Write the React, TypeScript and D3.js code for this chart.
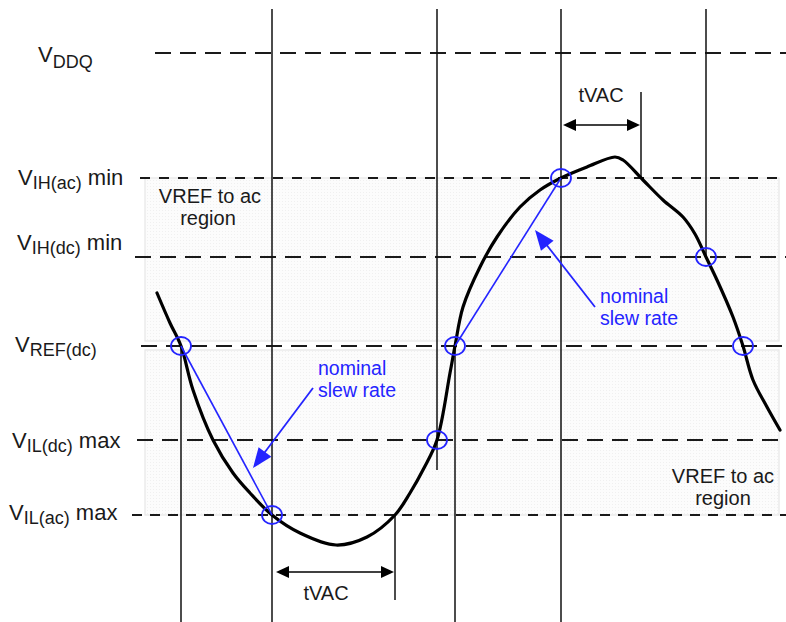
import React from "react";
import * as d3 from "d3";

// ---------- data (time units / mV relative to VREF) ----------
const levelKeys = ["VDDQ", "VIHac", "VIHdc", "VREF", "VILdc", "VILac"];
const levelValues = [293, 168, 89, 0, -94, -169];
const levelSub = ["DDQ", "IH(ac)", "IH(dc)", "REF(dc)", "IL(dc)", "IL(ac)"];
const levelSuffix = ["", " min", " min", "", " max", " max"];

const curveT = [157, 170, 181, 193, 213, 233, 250, 272, 300, 336, 367, 395, 410, 424, 437, 450, 455, 463, 480, 497, 520, 540, 561, 587, 615, 623, 643, 663, 683, 695, 706, 717, 733, 743, 753, 767, 780];
const curveV = [53, 23, 0, -44, -94, -127, -147, -169, -187, -199, -191, -169, -147, -122, -94, -27, 0, 39, 79, 109, 139, 156, 168, 179, 189, 186, 166, 146, 129, 112, 89, 66, 29, 0, -34, -61, -84];

const crossT = [181, 272, 437, 455, 561, 706, 743];
const crossV = [0, -169, -94, 0, 168, 89, 0];

// vertical timing markers: time, top value, bottom value
const vertT = [181, 272, 395, 437, 455, 561, 641, 706];
const vertTop = [0, 337, -169, 337, 0, 337, 254, 337];
const vertBottom = [-276, -276, -254, -124, -276, -276, 168, 89];

// nominal slew-rate segments (index pairs into crossing points)
const slewPairs = [[0, 1], [3, 4]];

// tVAC spans: start, end, value
const tvacStart = [563, 276];
const tvacEnd = [640, 394];
const tvacV = [221, -226];

// ---------- layout ----------
const W = 786, H = 622;
const x = d3.scaleLinear().domain([0, 786]).range([0, W]);
const y = d3.scaleLinear().domain([-276, 346]).range([H, 0]);

const dashStart = [155, 140, 135, 141, 137, 132];
const dashArr = ["16 9", "10 9", "16 9", "16 9", "16 9", "10 8"];
const labelX = [38, 18, 17, 15, 12, 9];
const labelDy = [9, 7, -7, 6, 8, 5];
const subDy = [6, 4, 4, 4, 4, 4];

const FONT = "'Liberation Sans', Arial, Helvetica, sans-serif";
const BLUE = "#2424ff";
const INK = "#1a1a1a";

function arrow(x1: number, y1: number, x2: number, y2: number, L: number, w: number) {
  const dx = x2 - x1, dy = y2 - y1;
  const len = Math.hypot(dx, dy);
  const ux = dx / len, uy = dy / len;
  const nx = -uy, ny = ux;
  const bx = x2 - ux * L, by = y2 - uy * L;
  return {
    line: [x1, y1, bx + ux * 1, by + uy * 1],
    head: `M${x2},${y2}L${bx + nx * w},${by + ny * w}L${bx - nx * w},${by - ny * w}Z`,
  };
}

export default function App() {
  const line = d3
    .line<number>()
    .x((_, i) => x(curveT[i]))
    .y((v) => y(v))
    .curve(d3.curveCatmullRom.alpha(0.5));
  const curvePath = line(curveV) || "";

  const boxX0 = x(145), boxX1 = x(779);
  const regions = [
    [y(levelValues[1]), y(levelValues[3]) - 5],
    [y(levelValues[3]) + 4, y(levelValues[5])],
  ];

  const slewArrows = [
    arrow(x(313), y(-42), x(253), y(-122), 20, 8),
    arrow(x(595), y(39), x(535), y(116), 20, 8),
  ];

  return (
    <svg width={W} height={H} style={{ position: "absolute", left: 0, top: 0, background: "#fff" }} fontFamily={FONT}>
      <defs>
        <pattern id="dots" width="3" height="3" patternUnits="userSpaceOnUse">
          <rect width="3" height="3" fill="#fcfcfc" />
          <rect width="1" height="1" fill="#f0f0f0" />
        </pattern>
      </defs>
      {/* shaded VREF-to-ac regions */}
      {regions.map(([a, b], i) => (
        <rect key={i} x={boxX0} y={a} width={boxX1 - boxX0} height={b - a} fill="url(#dots)" stroke="#e6e6e6" strokeWidth={1.2} />
      ))}

      {/* level dashed lines */}
      {levelKeys.map((k, i) => (
        <line key={k} x1={x(dashStart[i])} x2={W} y1={y(levelValues[i])} y2={y(levelValues[i])}
          stroke="#1a1a1a" strokeWidth={1.8} strokeDasharray={dashArr[i]} />
      ))}

      {/* vertical timing lines */}
      {vertT.map((t, i) => (
        <line key={i} x1={x(t)} x2={x(t)} y1={y(vertTop[i])} y2={y(vertBottom[i])} stroke="#111" strokeWidth={1.5} />
      ))}

      {/* level labels */}
      {levelKeys.map((k, i) => (
        <text key={k} x={labelX[i]} y={y(levelValues[i]) + labelDy[i]} fill={INK} fontSize={22}>
          V
          <tspan fontSize={18} dy={subDy[i]}>{levelSub[i]}</tspan>
          {levelSuffix[i] && <tspan fontSize={22} dy={-subDy[i]}>{levelSuffix[i]}</tspan>}
        </text>
      ))}

      {/* waveform */}
      <path d={curvePath} fill="none" stroke="#000" strokeWidth={3.2} strokeLinejoin="round" strokeLinecap="round" />

      {/* nominal slew rate lines */}
      {slewPairs.map(([a, b], i) => (
        <line key={i} x1={x(crossT[a])} y1={y(crossV[a])} x2={x(crossT[b])} y2={y(crossV[b])} stroke={BLUE} strokeWidth={1.6} />
      ))}

      {/* crossing circles */}
      {crossT.map((t, i) => (
        <ellipse key={i} cx={x(t)} cy={y(crossV[i])} rx={10} ry={9} fill="none" stroke={BLUE} strokeWidth={1.8} />
      ))}

      {/* slew arrows */}
      {slewArrows.map((a, i) => (
        <g key={i}>
          <line x1={a.line[0]} y1={a.line[1]} x2={a.line[2]} y2={a.line[3]} stroke={BLUE} strokeWidth={1.8} />
          <path d={a.head} fill={BLUE} />
        </g>
      ))}
      <text fill={BLUE} fontSize={19.5}>
        <tspan x={318} y={375}>nominal</tspan>
        <tspan x={318} y={397}>slew rate</tspan>
      </text>
      <text fill={BLUE} fontSize={19.5}>
        <tspan x={600} y={303}>nominal</tspan>
        <tspan x={600} y={325}>slew rate</tspan>
      </text>

      {/* tVAC double arrows */}
      {tvacStart.map((s, i) => {
        const x1 = x(s), x2 = x(tvacEnd[i]), yy = y(tvacV[i]);
        const L = 13, w = 6;
        return (
          <g key={i}>
            <line x1={x1 + L - 1} x2={x2 - L + 1} y1={yy} y2={yy} stroke="#000" strokeWidth={1.6} />
            <path d={`M${x1},${yy}L${x1 + L},${yy - w}L${x1 + L},${yy + w}Z`} fill="#000" />
            <path d={`M${x2},${yy}L${x2 - L},${yy - w}L${x2 - L},${yy + w}Z`} fill="#000" />
          </g>
        );
      })}
      <text x={601} y={102} fill={INK} fontSize={20} textAnchor="middle">tVAC</text>
      <text x={326} y={600} fill={INK} fontSize={20} textAnchor="middle">tVAC</text>

      {/* region notes */}
      <text fill={INK} fontSize={20} textAnchor="middle">
        <tspan x={210} y={203}>VREF to ac</tspan>
        <tspan x={208} y={225}>region</tspan>
      </text>
      <text fill={INK} fontSize={20} textAnchor="middle">
        <tspan x={723} y={483}>VREF to ac</tspan>
        <tspan x={723} y={505}>region</tspan>
      </text>
    </svg>
  );
}
